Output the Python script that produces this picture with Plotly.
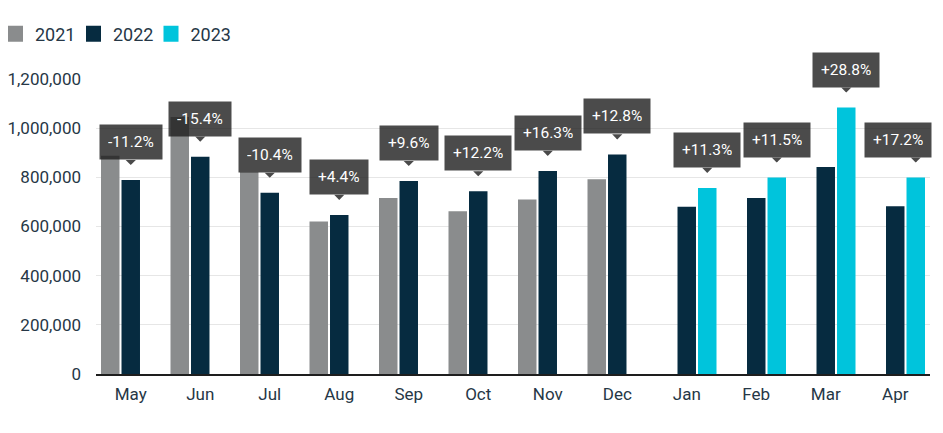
import plotly.graph_objects as go

months = ["May", "Jun", "Jul", "Aug", "Sep", "Oct", "Nov", "Dec", "Jan", "Feb", "Mar", "Apr"]
v2021 = [888000, 1045000, 822000, 620000, 716000, 662000, 710000, 792000]
v2022 = [789000, 884000, 737000, 647000, 785000, 743000, 826000, 893000,
         680000, 716000, 842000, 682000]
v2023 = [757000, 799000, 1084000, 799000]
change_labels = ["-11.2%", "-15.4%", "-10.4%", "+4.4%", "+9.6%", "+12.2%",
                 "+16.3%", "+12.8%", "+11.3%", "+11.5%", "+28.8%", "+17.2%"]
y_ticks = [0, 200000, 400000, 600000, 800000, 1000000, 1200000]
series_names = ["2021", "2022", "2023"]

C21, C22, C23 = "#8a8c8d", "#062b40", "#00c4dc"
W = 0.266
GAP = 0.029
OFF22 = -W / 2
OFF21 = OFF22 - GAP - W
OFF23 = W / 2 + GAP

x21 = list(range(len(v2021)))
x22 = list(range(len(v2022)))
x23 = list(range(len(v2022) - len(v2023), len(v2022)))

FW, FH = 935, 425  # page body has an 8px margin
ML, MR, MT, MB = 88, 13, 71, 59
PW = FW - ML - MR
XR = [-0.5, len(months) - 0.5]

fig = go.Figure()
fig.add_trace(go.Bar(x=x21, y=v2021, width=W, offset=OFF21, marker_color=C21,
                     marker_line_width=0, showlegend=False, name="2021"))
fig.add_trace(go.Bar(x=x22, y=v2022, width=W, offset=OFF22, marker_color=C22,
                     marker_line_width=0, showlegend=False, name="2022"))
fig.add_trace(go.Bar(x=x23, y=v2023, width=W, offset=OFF23, marker_color=C23,
                     marker_line_width=0, showlegend=False, name="2023"))

legend_keys = ["legend", "legend2", "legend3"]
for name, col, lk in zip(series_names, [C21, C22, C23], legend_keys):
    fig.add_trace(go.Scatter(x=[None], y=[None], mode="markers", name=name, legend=lk,
                             marker=dict(symbol="square", size=16, color=col)))

BOX_HALF = 32  # approx half width of a label box in px
shift23 = OFF23 + W / 2
for i, lab in enumerate(change_labels):
    if i in x23:
        xv = i + shift23
        yv = v2023[x23.index(i)]
    else:
        xv = i
        yv = v2022[i]
    cx = (xv - XR[0]) / (XR[1] - XR[0]) * PW
    dx = min(0, PW - (cx + BOX_HALF))
    # label box
    fig.add_annotation(x=xv, y=yv, xref="x", yref="y", text=lab, showarrow=False,
                       yanchor="bottom", yshift=20, xshift=dx,
                       height=18, valign="middle",
                       bgcolor="rgba(30,30,30,0.8)", borderpad=8,
                       font=dict(family="Roboto", size=15.5, color="white"))
    # pointer
    fig.add_annotation(x=xv, y=yv, xref="x", yref="y", text="",
                       showarrow=True, ax=0, ay=-21, axref="pixel", ayref="pixel",
                       standoff=15, arrowhead=1, arrowsize=1, arrowwidth=1.7,
                       arrowcolor="#4a4a4a")

legend_style = dict(orientation="h", xref="container", yref="container",
                    xanchor="left", yanchor="middle", y=1 - 26 / FH,
                    indentation=-13,
                    font=dict(size=18, color="#263746"), itemclick=False,
                    bgcolor="rgba(0,0,0,0)")
leg_px = [0, 78, 155.5]  # legend left edges in figure pixels

fig.update_layout(
    width=FW, height=FH,
    margin=dict(l=ML, r=MR, t=MT, b=MB),
    paper_bgcolor="white", plot_bgcolor="white",
    barmode="overlay",
    font=dict(family="Roboto", size=17, color="#263746"),
    legend=dict(legend_style, x=leg_px[0] / FW),
    legend2=dict(legend_style, x=leg_px[1] / FW),
    legend3=dict(legend_style, x=leg_px[2] / FW),
    xaxis=dict(range=XR, tickvals=list(range(len(months))), ticktext=months,
               showgrid=False, showline=True, linecolor="#1e1e1e", linewidth=1.5,
               ticks="", ticklabelstandoff=4, zeroline=False, fixedrange=True,
               automargin=False),
    yaxis=dict(range=[0, 1200000], tickvals=y_ticks, tickformat=",",
               showgrid=True, gridcolor="#e6e6e6", gridwidth=1,
               zeroline=False, showline=False, ticks="", ticklabelstandoff=14,
               fixedrange=True, automargin=False),
)

fig.write_html("out.html")
